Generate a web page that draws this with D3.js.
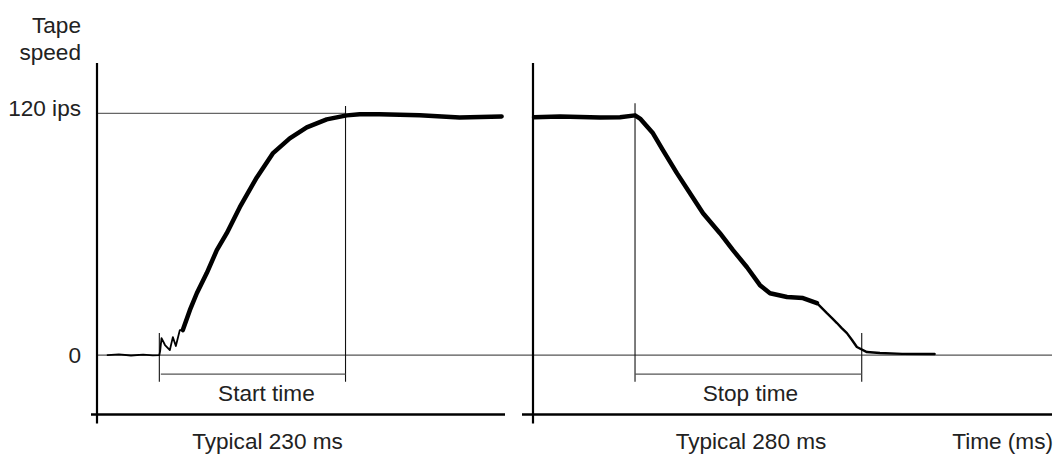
<!DOCTYPE html>
<html>
<head>
<meta charset="utf-8">
<script src="https://cdn.jsdelivr.net/npm/d3@7"></script>
<style>
  body { margin: 0; background: #fff; }
  svg text { font-family: "Liberation Sans", Arial, Helvetica, sans-serif; fill: #222; }
</style>
</head>
<body>
<svg id="chartSVG" width="1055" height="454"></svg>
<script>
// start curve (time in ms from start command, speed in ips)
var startRippleTime  = [-64, -50, -35, -20, -8, 0, 1, 2.7, 7, 13, 16.7, 20.4, 25.3, 29];
var startRippleSpeed = [0, 0.3, -0.2, 0.2, -0.1, 0, 2, 8.4, 5, 2.5, 8.9, 4.5, 12.4, 12.4];
var startRampTime  = [29, 37.7, 46.3, 58.6, 71, 83.3, 99.4, 120.4, 140.1, 161.1, 182.1, 206.8, 231.5, 247.5, 272, 321.6, 370.9, 422.8];
var startRampSpeed = [12.4, 22.3, 30.7, 40.7, 52.1, 60.5, 73.4, 88.2, 100.1, 107.6, 113, 117, 119, 119.6, 119.5, 119, 118, 118.5];

// stop curve (time in ms from stop command)
var stopRampTime  = [-124.7, -92.6, -43.2, -18.5, 0, 6.2, 22.2, 34.6, 51.9, 67.9, 84, 104.9, 121, 138.3, 154.3, 166.7, 187.7, 207.4, 224.7];
var stopRampSpeed = [118.1, 118.5, 118, 118.1, 119, 117.4, 110.1, 101.6, 90.2, 80.3, 70.4, 60.5, 52.1, 43.6, 34.7, 30.7, 28.8, 28.3, 25.8];
var stopTailTime  = [224.7, 237, 243, 249.4, 255, 261.7, 268, 274, 286.4, 302.5, 330, 370];
var stopTailSpeed = [25.8, 20.8, 18.5, 15.9, 13.5, 10.9, 7.5, 4, 1.5, 1, 0.6, 0.5];

var typicalStart = 230, typicalStop = 280;
var yTicks = [0, 120];
var yTickLabels = ["0", "120 ips"];

var svg = d3.select("#chartSVG");
var fontSize = "22.6px";

var xL = d3.scaleLinear().domain([-77, 427]).range([97, 505]);
var xR = d3.scaleLinear().domain([-126, 515]).range([533, 1052]);
var y = d3.scaleLinear().domain([-29.5, 145]).range([414.5, 63]);

function pts(ts, vs) { return ts.map(function(t, i) { return [t, vs[i]]; }); }

// zero line across both panels
svg.append("line")
  .attr("x1", xL.range()[0]).attr("x2", xR.range()[1])
  .attr("y1", y(0)).attr("y2", y(0))
  .attr("stroke", "#555").attr("stroke-width", 1.2);

// 120 ips reference line
svg.append("line")
  .attr("x1", xL.range()[0] + 1).attr("x2", xL(typicalStart))
  .attr("y1", y(120)).attr("y2", y(120))
  .attr("stroke", "#666").attr("stroke-width", 1.2);

// vertical axes
[xL.range()[0], xR.range()[0]].forEach(function(ax) {
  svg.append("line")
    .attr("x1", ax).attr("x2", ax)
    .attr("y1", y(145)).attr("y2", y(-34))
    .attr("stroke", "#000").attr("stroke-width", 2.2);
});

// bottom axis (broken between panels)
svg.append("line")
  .attr("x1", xL.range()[0] - 6).attr("x2", xL.range()[1])
  .attr("y1", y(-29.5)).attr("y2", y(-29.5))
  .attr("stroke", "#000").attr("stroke-width", 2.5);
svg.append("line")
  .attr("x1", xR.range()[0] - 11).attr("x2", xR.range()[1])
  .attr("y1", y(-29.5)).attr("y2", y(-29.5))
  .attr("stroke", "#000").attr("stroke-width", 2.5);

// y tick labels
var yAxis = svg.append("g")
  .attr("transform", "translate(" + xL.range()[0] + ",0)")
  .call(d3.axisLeft(y).tickValues(yTicks).tickSize(0).tickPadding(16)
    .tickFormat(function(d, i) { return yTickLabels[i]; }));
yAxis.select(".domain").remove();
yAxis.selectAll("text")
  .style("font-size", fontSize)
  .attr("dy", function(d) { return d === 120 ? "0.08em" : "0.35em"; });

// time markers and brackets
function marker(x, top) {
  svg.append("line")
    .attr("x1", x).attr("x2", x)
    .attr("y1", y(top)).attr("y2", y(-13.2))
    .attr("stroke", "#111").attr("stroke-width", 1.1);
}
marker(xL(0), 10.9);
marker(xL(typicalStart), 123.6);
marker(xR(0), 125);
marker(xR(typicalStop), 10.9);

svg.append("line")
  .attr("x1", xL(0) + 1.5).attr("x2", xL(typicalStart))
  .attr("y1", y(-9.5)).attr("y2", y(-9.5))
  .attr("stroke", "#555").attr("stroke-width", 1.2);
svg.append("line")
  .attr("x1", xR(0)).attr("x2", xR(typicalStop))
  .attr("y1", y(-9.5)).attr("y2", y(-9.5))
  .attr("stroke", "#555").attr("stroke-width", 1.2);

// curves
function curve(xs, data, w) {
  var line = d3.line()
    .x(function(d) { return xs(d[0]); })
    .y(function(d) { return y(d[1]); });
  svg.append("path")
    .attr("d", line(data))
    .attr("fill", "none")
    .attr("stroke", "#000")
    .attr("stroke-width", w)
    .attr("stroke-linejoin", "round")
    .attr("stroke-linecap", "round");
}
curve(xL, pts(startRippleTime, startRippleSpeed), 1.8);
curve(xL, pts(startRampTime, startRampSpeed), 4.5);
curve(xR, pts(stopRampTime, stopRampSpeed), 4.5);
curve(xR, pts(stopTailTime, stopTailSpeed), 2.4);

// texts
function label(txt, x, yy, anchor) {
  svg.append("text")
    .attr("x", x).attr("y", yy)
    .attr("text-anchor", anchor || "middle")
    .style("font-size", fontSize)
    .text(txt);
}
label("Tape", 81, 33, "end");
label("speed", 81, 60, "end");
label("Start time", (xL(0) + xL(typicalStart)) / 2 + 14, 401);
label("Stop time", (xR(0) + xR(typicalStop)) / 2 + 2, 401);
label("Typical " + typicalStart + " ms", 267.5, 449);
label("Typical " + typicalStop + " ms", 751, 449);
label("Time (ms)", 1053, 449, "end");
</script>
</body>
</html>
